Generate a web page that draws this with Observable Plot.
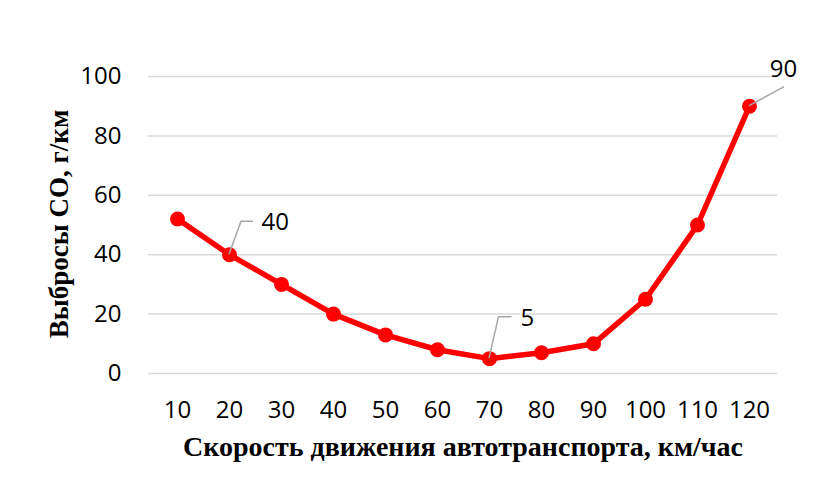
<!DOCTYPE html>
<html><head><meta charset="utf-8">
<script src="https://cdn.jsdelivr.net/npm/d3@7"></script>
<script src="https://cdn.jsdelivr.net/npm/@observablehq/plot@0.6"></script>
<style>body{margin:0;background:#fff;} svg{display:block}</style>
</head><body><div id="chart"></div>
<script>
const speeds = [10, 20, 30, 40, 50, 60, 70, 80, 90, 100, 110, 120];
const emissions = [52, 40, 30, 20, 13, 8, 5, 7, 10, 25, 50, 90];
const yTicks = [0, 20, 40, 60, 80, 100];
const labelled = [20, 70, 120];
const xTitle = "Скорость движения автотранспорта, км/час";
const yTitle = "Выбросы CO, г/км";

const data = speeds.map((s, i) => ({speed: s, co: emissions[i]}));
const ann = data.filter(d => labelled.includes(d.speed));

// leader lines drawn through the plot's own scales
function leaders(...args) {
  const scales = args.find(a => a && typeof a.x === "function" && typeof a.y === "function");
  const g = d3.create("svg:g").attr("fill", "none").attr("stroke", "#a6a6a6").attr("stroke-width", 1.5);
  for (const d of ann) {
    const px = scales.x(d.speed), py = scales.y(d.co);
    let p;
    if (d.speed === 120) p = `M${px},${py}L${px + 35},${py - 19}`;
    else if (d.speed === 70) p = `M${px},${py}L${px + 9.5},${py - 41.5}L${px + 22.5},${py - 41.5}`;
    else p = `M${px},${py}L${px + 12},${py - 33}L${px + 24},${py - 33}`;
    g.append("path").attr("d", p);
  }
  return g.node();
}

const plot = Plot.plot({
  width: 835,
  height: 485,
  marginLeft: 148,
  marginRight: 58,
  marginTop: 76,
  marginBottom: 112,
  style: {fontFamily: "'Open Sans', sans-serif", fontSize: "24px", color: "#000", background: "#fff"},
  x: {type: "point", domain: speeds, padding: 0.5, label: null},
  y: {domain: [0, 100], label: null},
  marks: [
    Plot.ruleY(yTicks, {stroke: "#d9d9d9", strokeWidth: 1.5}),
    Plot.axisY({ticks: yTicks, tickSize: 0, tickPadding: 27, fontSize: 24}),
    Plot.axisX({tickSize: 0, tickPadding: 27, fontSize: 24}),
    Plot.line(data, {x: "speed", y: "co", stroke: "#ff0000", strokeWidth: 5.5}),
    Plot.dot(data, {x: "speed", y: "co", r: 7.5, fill: "#ff0000"}),
    leaders,
    Plot.text(ann.filter(d => d.speed === 20), {x: "speed", y: "co", text: d => String(d.co), textAnchor: "start", dx: 32, dy: -32, fontSize: 24, fill: "#000"}),
    Plot.text(ann.filter(d => d.speed === 70), {x: "speed", y: "co", text: d => String(d.co), textAnchor: "start", dx: 31, dy: -40, fontSize: 24, fill: "#000"}),
    Plot.text(ann.filter(d => d.speed === 120), {x: "speed", y: "co", text: d => String(d.co), textAnchor: "middle", dx: 34, dy: -37, fontSize: 24, fill: "#000"}),
    Plot.text([xTitle], {frameAnchor: "bottom", dy: 82, text: d => d, textAnchor: "middle", fontFamily: "'Liberation Serif', serif", fontWeight: "bold", fontSize: 28, fill: "#000"}),
    Plot.text([yTitle], {frameAnchor: "left", dx: -89, dy: -1, rotate: -90, text: d => d, textAnchor: "middle", fontFamily: "'Liberation Serif', serif", fontWeight: "bold", fontSize: 27, fill: "#000"})
  ]
});
document.getElementById("chart").append(plot);
</script>
</body></html>
